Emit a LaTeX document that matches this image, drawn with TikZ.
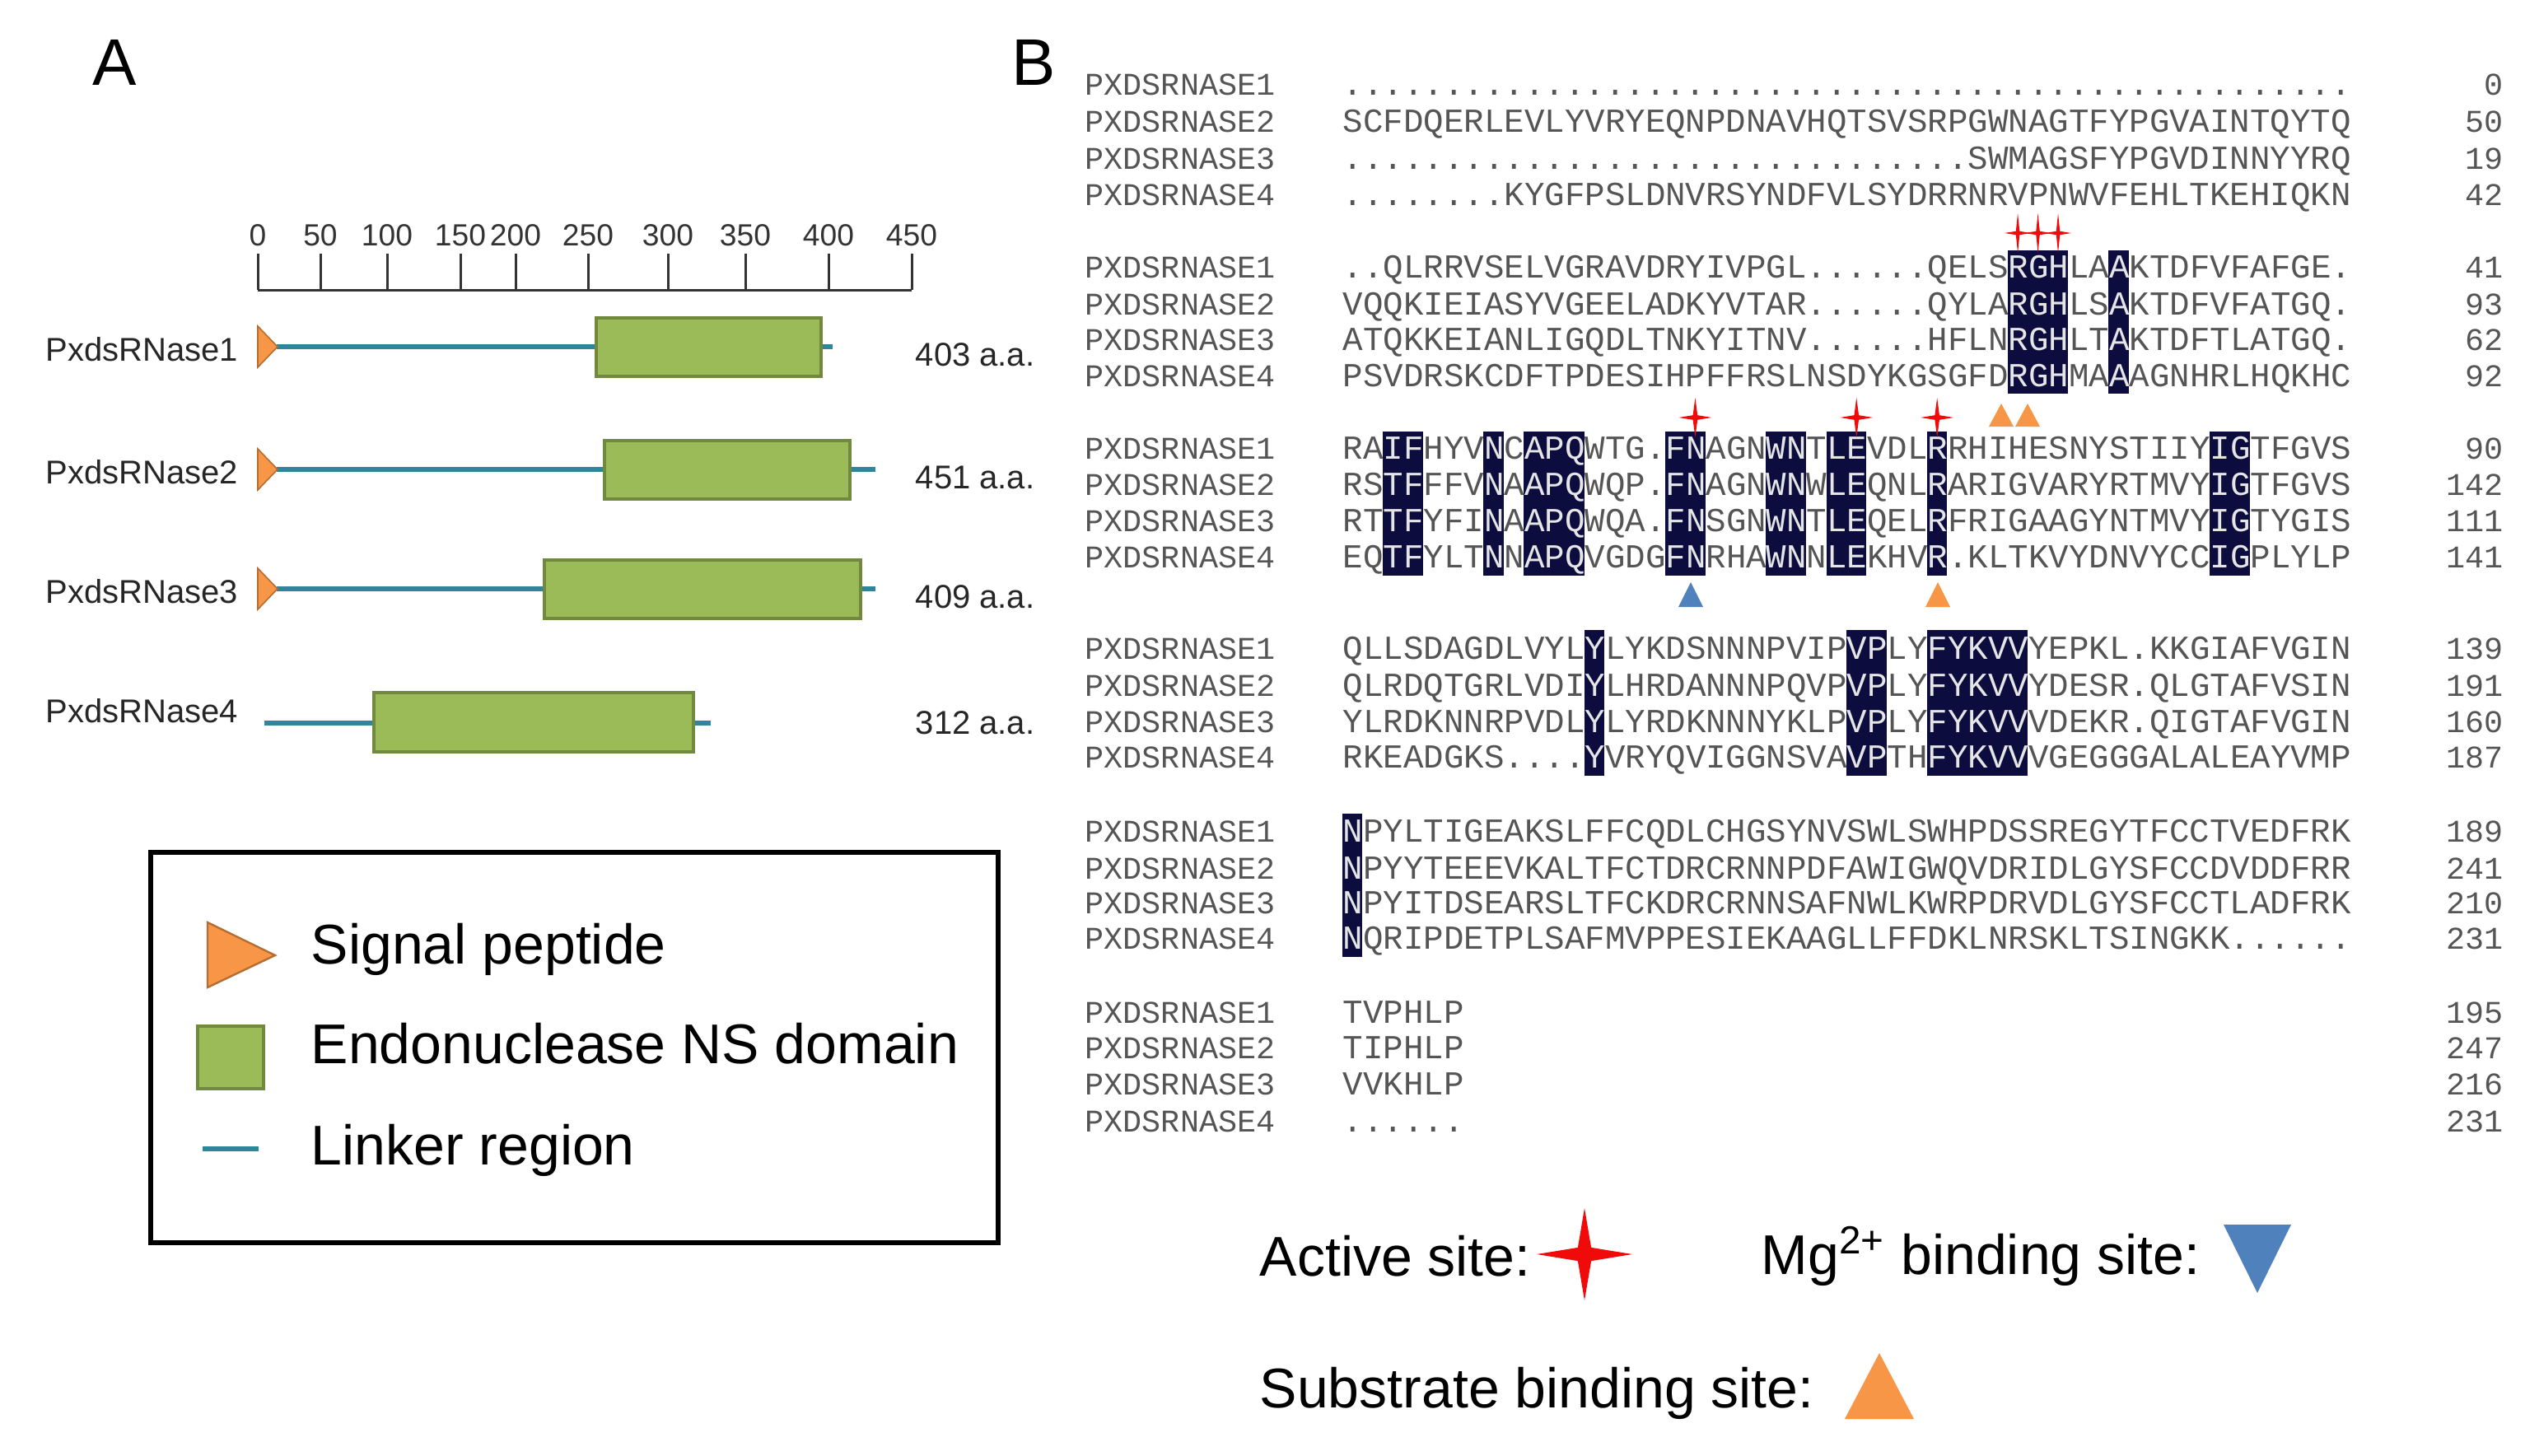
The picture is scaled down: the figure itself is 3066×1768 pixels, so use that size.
\documentclass[tikz,border=0pt]{standalone}
\usepackage{fontspec}
\setmainfont{Liberation Sans}
\newfontfamily\monofont{Liberation Mono}
\usetikzlibrary{positioning}
\definecolor{dsgreen}{RGB}{155,187,89}
\definecolor{dsgreenb}{RGB}{113,137,63}
\definecolor{sigorange}{RGB}{247,150,70}
\definecolor{sigorangeb}{RGB}{182,109,49}
\definecolor{linkteal}{RGB}{49,133,155}
\definecolor{hlnavy}{RGB}{12,12,62}
\definecolor{seqgray}{RGB}{85,85,85}
\definecolor{mgblue}{RGB}{79,129,189}
\definecolor{actred}{RGB}{240,10,10}
\tikzstyle{nsdomain} = [fill=dsgreen, draw=dsgreenb, line width=0.8pt]
\tikzstyle{linker} = [draw=linkteal, line width=1.5pt]
\tikzstyle{signal} = [fill=sigorange, draw=sigorangeb, line width=0.4pt]
\tikzstyle{protname} = [anchor=west, inner sep=0, font=\fontsize{10pt}{12pt}\selectfont, text=black!85]
\tikzstyle{seq} = [anchor=base west, inner sep=0, text=seqgray, font=\monofont\fontsize{10.2pt}{12pt}\selectfont]
\tikzstyle{seqname} = [anchor=base west, inner sep=0, text=seqgray, font=\monofont\fontsize{9.6pt}{12pt}\selectfont]
\tikzstyle{seqnum} = [anchor=base east, inner sep=0, text=seqgray, font=\monofont\fontsize{9.6pt}{12pt}\selectfont]
\tikzstyle{legtext} = [anchor=west, inner sep=0, font=\fontsize{17pt}{20pt}\selectfont]
\tikzstyle{hl} = [fill=hlnavy]
\newcommand{\h}[1]{\textcolor{white!80!gray}{#1}}
% one alignment row: id, y (centre), name, residues, count
\newcommand{\seqrow}[5]{%
  \node (n#1) [seqname] at (1317,#2+12) {#3};
  \node (s#1) [seq] at (1630,#2+12) {#4};
  \node (c#1) [seqnum] at (3040,#2+12) {#5};}
% highlighted columns: from, to, top, bottom
\newcommand{\hlcol}[4]{\fill[hl] ({1630+(#1-1)*24.48},#3) rectangle ({1630+#2*24.48},#4);}
% four-point star: x, y, half width, half height
\newcommand{\fourstar}[4]{\fill[actred] ({#1},{#2}) +(0,-#4) -- +({0.14*#3},{-0.14*#3}) -- +(#3,0) -- +({0.14*#3},{0.14*#3}) -- +(0,#4) -- +({-0.14*#3},{0.14*#3}) -- +(-#3,0) -- +({-0.14*#3},{-0.14*#3}) -- cycle;}
\begin{document}
\begin{tikzpicture}[x=0.25pt, y=-0.25pt]
\useasboundingbox (0,0) rectangle (3066,1768);

% Panel labels
\node (labA) [inner sep=0, font=\fontsize{20pt}{24pt}\selectfont] at (139,76) {A};
\node (labB) [inner sep=0, font=\fontsize{20pt}{24pt}\selectfont] at (1255,76) {B};

% Scale bar
\draw[line width=0.75pt, black!80] (313,352) -- (1107,352);
\foreach \x/\t in {313/0,389/50,470/100,559/150,626/200,714/250,811/300,905/350,1006/400,1107/450}
  \draw[line width=0.75pt, black!80] (\x,308) -- (\x,352) node[pos=0, above=2pt, inner sep=0, font=\fontsize{9.3pt}{11pt}\selectfont] {\t};

% Domain rows
\foreach \i/\y/\e/\bl/\br/\len in {1/421/1011/724/997/403, 2/570/1063/734/1032/451, 3/715/1063/661/1045/409} {
  \coordinate (ls\i) at (336,\y);
  \coordinate (le\i) at (\e,\y);
  \draw[linker] (ls\i) -- (le\i);
  \draw[nsdomain] (\bl,\y-35) rectangle (\br,\y+36);
  \draw[signal] (313,\y-25) -- (337,\y) -- (313,\y+25) -- cycle;
  \node (p\i) [protname] at (55,\y+3) {PxdsRNase\i};
  \node (a\i) [protname] at (1111,\y+10) {\len{} a.a.};
}
\coordinate (ls4) at (321,878);
\coordinate (le4) at (863,878);
\draw[linker] (ls4) -- (le4);
\draw[nsdomain] (454,841) rectangle (842,913);
\node (p4) [protname] at (55,863) {PxdsRNase4};
\node (a4) [protname] at (1111,878) {312 a.a.};

% Legend of panel A
\draw[line width=1.3pt] (183,1035) rectangle (1212,1509);
\draw[signal, line width=0.6pt] (252,1120) -- (334,1160) -- (252,1199) -- cycle;
\node (lg1) [legtext] at (377,1153) {Signal peptide};
\draw[nsdomain] (240,1246) rectangle (320,1322);
\node (lg2) [legtext] at (377,1267) {Endonuclease NS domain};
\coordinate (lk1) at (246,1395);
\coordinate (lk2) at (314,1395);
\draw[linker] (lk1) -- (lk2);
\node (lg3) [legtext] at (377,1397) {Linker region};

% Alignment: conserved columns
\foreach \a/\b in {34/36,39/39} {\hlcol{\a}{\b}{304}{478}}
\foreach \a/\b in {3/4,8/8,10/12,17/18,22/23,25/26,30/30,44/45} {\hlcol{\a}{\b}{524}{699}}
\foreach \a/\b in {13/13,26/27,30/34} {\hlcol{\a}{\b}{765}{942}}
\hlcol{1}{1}{988}{1162}

% Alignment: rows
\seqrow{11}{103}{PXDSRNASE1}{..................................................}{0}
\seqrow{12}{148}{PXDSRNASE2}{SCFDQERLEVLYVRYEQNPDNAVHQTSVSRPGWNAGTFYPGVAINTQYTQ}{50}
\seqrow{13}{193}{PXDSRNASE3}{...............................SWMAGSFYPGVDINNYYRQ}{19}
\seqrow{14}{237}{PXDSRNASE4}{........KYGFPSLDNVRSYNDFVLSYDRRNRVPNWVFEHLTKEHIQKN}{42}
\seqrow{21}{325}{PXDSRNASE1}{..QLRRVSELVGRAVDRYIVPGL......QELS\h{RGH}LA\h{A}KTDFVFAFGE.}{41}
\seqrow{22}{370}{PXDSRNASE2}{VQQKIEIASYVGEELADKYVTAR......QYLA\h{RGH}LS\h{A}KTDFVFATGQ.}{93}
\seqrow{23}{413}{PXDSRNASE3}{ATQKKEIANLIGQDLTNKYITNV......HFLN\h{RGH}LT\h{A}KTDFTLATGQ.}{62}
\seqrow{24}{457}{PXDSRNASE4}{PSVDRSKCDFTPDESIHPFFRSLNSDYKGSGFD\h{RGH}MA\h{A}AGNHRLHQKHC}{92}
\seqrow{31}{545}{PXDSRNASE1}{RA\h{IF}HYV\h{N}C\h{APQ}WTG.\h{FN}AGN\h{WN}T\h{LE}VDL\h{R}RHIHESNYSTIIY\h{IG}TFGVS}{90}
\seqrow{32}{589}{PXDSRNASE2}{RS\h{TF}FFV\h{N}A\h{APQ}WQP.\h{FN}AGN\h{WN}W\h{LE}QNL\h{R}ARIGVARYRTMVY\h{IG}TFGVS}{142}
\seqrow{33}{633}{PXDSRNASE3}{RT\h{TF}YFI\h{N}A\h{APQ}WQA.\h{FN}SGN\h{WN}T\h{LE}QEL\h{R}FRIGAAGYNTMVY\h{IG}TYGIS}{111}
\seqrow{34}{677}{PXDSRNASE4}{EQ\h{TF}YLT\h{N}N\h{APQ}VGDG\h{FN}RHA\h{WN}N\h{LE}KHV\h{R}.KLTKVYDNVYCC\h{IG}PLYLP}{141}
\seqrow{41}{788}{PXDSRNASE1}{QLLSDAGDLVYL\h{Y}LYKDSNNNPVIP\h{VP}LY\h{FYKVV}YEPKL.KKGIAFVGIN}{139}
\seqrow{42}{833}{PXDSRNASE2}{QLRDQTGRLVDI\h{Y}LHRDANNNPQVP\h{VP}LY\h{FYKVV}YDESR.QLGTAFVSIN}{191}
\seqrow{43}{877}{PXDSRNASE3}{YLRDKNNRPVDL\h{Y}LYRDKNNNYKLP\h{VP}LY\h{FYKVV}VDEKR.QIGTAFVGIN}{160}
\seqrow{44}{920}{PXDSRNASE4}{RKEADGKS....\h{Y}VRYQVIGGNSVA\h{VP}TH\h{FYKVV}VGEGGGALALEAYVMP}{187}
\seqrow{51}{1010}{PXDSRNASE1}{\h{N}PYLTIGEAKSLFFCQDLCHGSYNVSWLSWHPDSSREGYTFCCTVEDFRK}{189}
\seqrow{52}{1055}{PXDSRNASE2}{\h{N}PYYTEEEVKALTFCTDRCRNNPDFAWIGWQVDRIDLGYSFCCDVDDFRR}{241}
\seqrow{53}{1097}{PXDSRNASE3}{\h{N}PYITDSEARSLTFCKDRCRNNSAFNWLKWRPDRVDLGYSFCCTLADFRK}{210}
\seqrow{54}{1140}{PXDSRNASE4}{\h{N}QRIPDETPLSAFMVPPESIEKAAGLLFFDKLNRSKLTSINGKK......}{231}
\seqrow{61}{1230}{PXDSRNASE1}{TVPHLP}{195}
\seqrow{62}{1273}{PXDSRNASE2}{TIPHLP}{247}
\seqrow{63}{1317}{PXDSRNASE3}{VVKHLP}{216}
\seqrow{64}{1362}{PXDSRNASE4}{......}{231}

% Site marks
\foreach \c in {34,35,36} {\fourstar{1630+(\c-0.5)*24.48}{283}{16}{24}}
\foreach \c in {18,26,30} {\fourstar{1630+(\c-0.5)*24.48}{507}{20}{24}}
\foreach \x in {2430,2462} {\fill[sigorange] (\x-15,518) -- (\x+15,518) -- (\x,490) -- cycle;}
\fill[mgblue] (2038,737) -- (2068,737) -- (2053,707) -- cycle;
\fill[sigorange] (2338,737) -- (2368,737) -- (2353,707) -- cycle;

% Site legend
\node (act) [legtext] at (1529,1525) {Active site:};
\fourstar{1924}{1523}{58}{56}
\node (mg) [legtext] at (2138,1525) {Mg\textsuperscript{2+} binding site:};
\fill[mgblue] (2700,1487) -- (2782,1487) -- (2741,1570) -- cycle;
\node (sub) [legtext] at (1529,1692) {Substrate binding site:};
\fill[sigorange] (2240,1723) -- (2324,1723) -- (2282,1643) -- cycle;
\end{tikzpicture}
\end{document}
